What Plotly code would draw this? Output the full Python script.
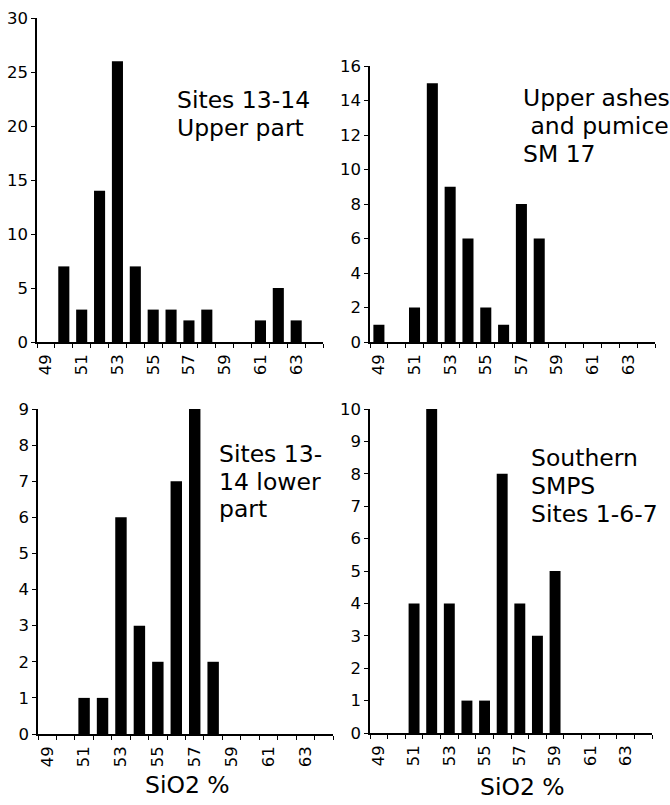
import plotly.graph_objects as go

W, H = 670, 805

# ---------------- data ----------------
sio2 = list(range(49, 65))  # SiO2 % classes
tick_labels = [49, 51, 53, 55, 57, 59, 61, 63]

upper_part = [0, 7, 3, 14, 26, 7, 3, 3, 2, 3, 0, 0, 2, 5, 2, 0]
upper_ashes = [1, 0, 2, 15, 9, 6, 2, 1, 8, 6, 0, 0, 0, 0, 0, 0]
lower_part = [0, 0, 1, 1, 6, 3, 2, 7, 9, 2, 0, 0, 0, 0, 0, 0]
southern = [0, 0, 4, 10, 4, 1, 1, 8, 4, 3, 5, 0, 0, 0, 0, 0]

y_max = [30, 16, 9, 10]
y_step = [5, 2, 1, 1]

labels_1 = ["Sites 13-14", "Upper part"]
labels_2 = ["Upper ashes", " and pumice", "SM 17"]
labels_3 = ["Sites 13-", "14 lower", "part"]
labels_4 = ["Southern", "SMPS", "Sites 1-6-7"]
x_title = "SiO2 %"

series = [upper_part, upper_ashes, lower_part, southern]
texts = [labels_1, labels_2, labels_3, labels_4]

# ---------------- layout geometry (window pixels) ----------------
def fx(px):
    return px / W

def fy(py):
    return 1 - py / H

# (left, right, top, bottom) of each plot area in pixels
boxes = [(37, 323, 18, 342), (370, 655, 66, 342), (38, 333, 409, 734), (370, 652, 409, 733)]
# text anchors: left x, list of line-centre y
text_pos = [(175, [100, 127.5]), (521, [98.5, 126, 154]), (217, [454, 481.5, 509]), (529, [458, 486, 514])]
title_pos = [None, None, (187, 785), (522, 787)]

FONT = "DejaVu Sans, Verdana, sans-serif"
black = "#000000"
TICK_SIZE = 16.5
LABEL_SIZE = 23.5

fig = go.Figure()
boundaries = [c - 0.5 for c in sio2] + [sio2[-1] + 0.5]
xr = [sio2[0] - 0.5, sio2[-1] + 0.5]

layout = dict(
    width=W, height=H, margin=dict(l=0, r=0, t=0, b=0, autoexpand=False),
    paper_bgcolor="white", plot_bgcolor="white", showlegend=False,
    font=dict(family=FONT, color=black),
)
annotations = []

for i, (vals, box) in enumerate(zip(series, boxes)):
    n = i + 1
    xa = "x" if n == 1 else f"x{n}"
    ya = "y" if n == 1 else f"y{n}"
    fig.add_trace(go.Bar(x=sio2, y=vals, width=0.62, marker=dict(color=black, line=dict(width=0)),
                         xaxis=xa, yaxis=ya, hoverinfo="x+y"))
    l, r, t, b = box
    yticks = list(range(0, y_max[i] + 1, y_step[i]))
    layout[f"xaxis{n}" if n > 1 else "xaxis"] = dict(
        domain=[fx(l), fx(r)], anchor=ya, range=xr, tickmode="array",
        tickvals=tick_labels, ticktext=[str(v) for v in tick_labels], tickangle=-90,
        ticks="outside", ticklen=4, tickcolor="rgba(0,0,0,0)",
        minor=dict(tickmode="array", tickvals=boundaries, ticks="outside", ticklen=4,
                   tickwidth=1.2, tickcolor=black, showgrid=False),
        showline=True, linecolor=black, linewidth=1.5, showgrid=False, zeroline=False,
        tickfont=dict(size=TICK_SIZE, color=black, family=FONT), fixedrange=True,
        automargin=False,
    )
    layout[f"yaxis{n}" if n > 1 else "yaxis"] = dict(
        domain=[fy(b), fy(t)], anchor=xa, range=[0, y_max[i]], tickmode="array",
        tickvals=yticks, ticks="outside", ticklen=4, tickwidth=1.2, tickcolor=black,
        showline=True, linecolor=black, linewidth=1.5, showgrid=False, zeroline=False,
        tickfont=dict(size=TICK_SIZE, color=black, family=FONT), fixedrange=True,
        automargin=False,
    )
    # overlay axes for the inner half of the crossing ticks
    layout[f"xaxis{n + 4}"] = dict(
        overlaying=xa, anchor=ya, range=xr, tickmode="array", tickvals=boundaries,
        ticks="inside", ticklen=4, tickwidth=1.2, tickcolor=black, showticklabels=False,
        showline=False, showgrid=False, zeroline=False, fixedrange=True, automargin=False,
    )
    layout[f"yaxis{n + 4}"] = dict(
        overlaying=ya, anchor=xa, range=[0, y_max[i]], tickmode="array", tickvals=yticks,
        ticks="inside", ticklen=4, tickwidth=1.2, tickcolor=black, showticklabels=False,
        showline=False, showgrid=False, zeroline=False, fixedrange=True, automargin=False,
    )
    tx, tys = text_pos[i]
    for line, ty in zip(texts[i], tys):
        annotations.append(dict(x=fx(tx), y=fy(ty), xref="paper", yref="paper", text=line,
                                showarrow=False, xanchor="left", yanchor="middle",
                                font=dict(size=LABEL_SIZE, color=black, family=FONT)))
    if title_pos[i]:
        px, py = title_pos[i]
        annotations.append(dict(x=fx(px), y=fy(py), xref="paper", yref="paper", text=x_title,
                                showarrow=False, xanchor="center", yanchor="middle",
                                font=dict(size=LABEL_SIZE, color=black, family=FONT)))

layout["annotations"] = annotations
fig.update_layout(**layout)
fig.write_html(
    "out.html",
    config={"displayModeBar": False},
    post_script="document.body.style.margin='0';document.body.style.overflow='hidden';",
)
